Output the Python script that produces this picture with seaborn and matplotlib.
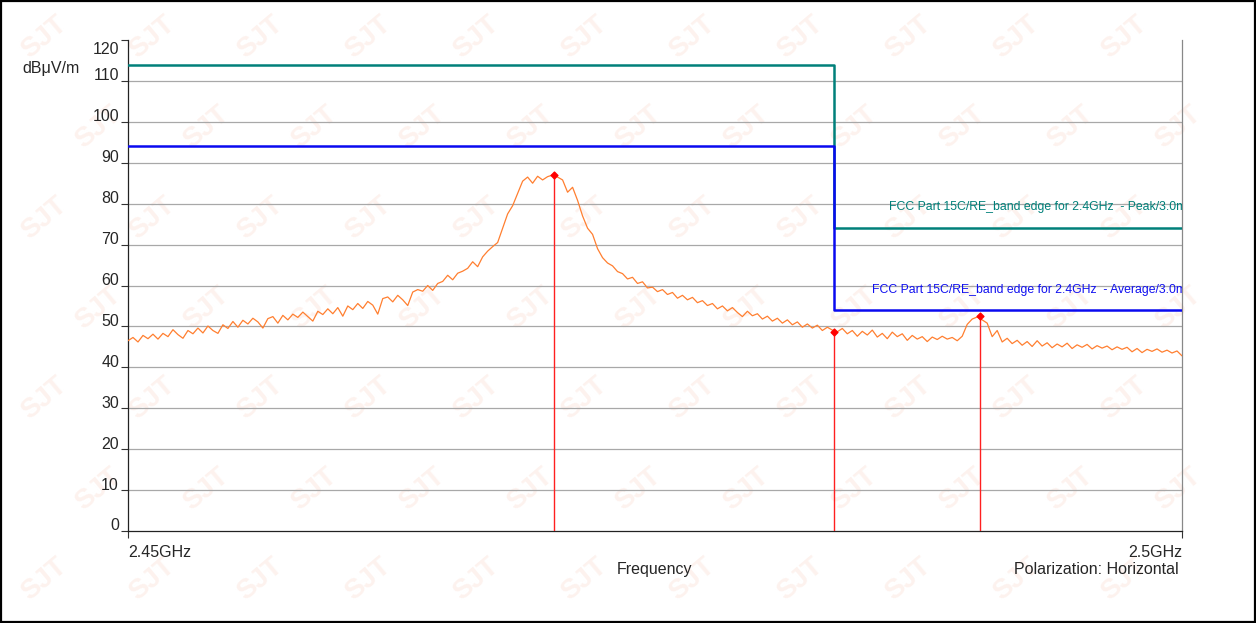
import numpy as np
import pandas as pd
import seaborn as sns
import matplotlib.pyplot as plt

# Measured trace (dBuV/m), evenly spaced sweep 2.45 - 2.5 GHz
level = [
    46.5, 47.3, 46.2, 47.8, 47.0, 48.1, 46.9, 48.3, 47.5, 49.2, 48.0, 47.1, 49.0, 48.2, 49.6, 48.4,
    50.1, 49.0, 48.3, 50.4, 49.5, 51.2, 49.8, 51.5, 50.6, 52.0, 51.1, 49.6, 51.9, 52.4, 50.8, 52.7,
    51.6, 53.0, 52.2, 53.5, 52.4, 51.3, 53.7, 52.9, 54.3, 53.1, 54.6, 52.5, 55.0, 54.1, 55.6, 54.4,
    56.1, 55.2, 53.0, 56.8, 57.2, 56.0, 57.6, 56.5, 55.1, 58.4, 59.0, 58.6, 60.0, 58.8, 60.5,
    61.0, 62.5, 61.4, 63.0, 63.5, 64.2, 65.8, 64.6, 67.0, 68.4, 69.5, 70.5, 74.0, 77.5, 79.5, 82.5,
    85.5, 86.5, 85.0, 86.7, 85.8, 86.6, 87.0,
    86.5, 85.8, 82.8, 84.0, 80.8, 77.0, 74.0, 72.5, 69.0, 66.8, 65.5, 64.8, 63.4, 62.9, 61.6, 62.0,
    60.5, 60.9, 59.4, 59.6, 58.5, 59.0, 57.8, 58.3, 56.9, 57.6, 56.5, 57.1, 55.8,
    56.3, 55.1, 55.6, 54.3, 55.0, 53.8, 54.6, 53.4, 52.4, 53.7, 52.6, 53.1, 51.8, 52.5, 51.3, 52.0,
    50.8, 51.6, 50.4, 51.1, 49.8, 50.6, 49.6, 50.3, 49.0, 49.8, 49.1, 48.7,
    49.5, 48.2, 49.0, 47.6, 48.8, 47.9, 49.1, 47.4, 48.3, 47.0, 48.6, 47.5, 48.2, 46.6, 47.8, 46.9,
    47.5, 46.3, 47.4, 46.8, 47.6, 46.9, 47.3, 46.5, 47.6, 50.5, 51.8, 52.3, 51.6, 50.8, 47.5, 49.0,
    46.2, 47.1, 45.8, 46.6, 45.4, 46.3, 45.1, 46.5, 45.2, 46.0, 44.8, 45.7, 45.0, 45.9, 44.6, 45.5,
    44.9, 45.6, 44.5, 45.3, 44.7, 45.2, 44.3, 45.0, 44.4, 44.9, 43.8, 44.6, 43.6, 44.4, 43.9, 44.5,
    43.7, 44.2, 43.5, 44.0, 42.8,
]
freq = np.linspace(2.45, 2.5, len(level))

# Limit lines (step at band edge 2.4835 GHz)
limit_freq = [2.45, 2.4835, 2.4835, 2.5]
peak_limit = [114, 114, 74, 74]
avg_limit = [94, 94, 54, 54]

# Markers
marker_freq = [2.4702, 2.4835, 2.4904]
marker_level = [86.9, 48.7, 52.5]

y_ticks = list(range(0, 121, 10))

sns.set_style("white")
plt.rcParams['font.family'] = ['Liberation Sans', 'DejaVu Sans']

fig = plt.figure(figsize=(12.56, 6.23), dpi=100)
ax = fig.add_axes([128 / 1256, 1 - 531 / 623, 1054 / 1256, 491 / 623])

# faint background watermark, drawn behind the axes
for j, yw in enumerate(np.arange(0.07, 0.96, 0.145)):
    for xw in np.arange(0.035 + (0.043 if j % 2 else 0), 0.97, 0.086):
        fig.text(xw, yw, "SJT", color="#fdf2ee", fontsize=20, fontweight="bold",
                 rotation=40, ha="center", va="center", zorder=-5)

ax.set_facecolor("none")
for yv in y_ticks[1:-1]:
    ax.axhline(yv, color="#a8a8a8", lw=0.9, zorder=1)

df = pd.DataFrame({"Frequency": freq, "Level": level})
sns.lineplot(data=df, x="Frequency", y="Level", color="#ff7f30", lw=0.9, ax=ax, zorder=3)

ax.plot(limit_freq, peak_limit, color="#00807a", lw=1.8, zorder=4)
ax.plot(limit_freq, avg_limit, color="#0a0af0", lw=1.8, zorder=4)

ax.vlines(marker_freq, 0, marker_level, color="#ff2020", lw=1.0, zorder=5)
ax.scatter(marker_freq, marker_level, marker="D", s=12, color="#ff0000", zorder=6)

ax.text(2.50035, 79.2, "FCC Part 15C/RE_band edge for 2.4GHz  - Peak/3.0m/", color="#00807a",
        fontsize=8.8, ha="right", va="center", clip_on=True)
ax.text(2.50035, 58.9, "FCC Part 15C/RE_band edge for 2.4GHz  - Average/3.0m/", color="#1010f0",
        fontsize=8.8, ha="right", va="center", clip_on=True)

ax.set_xlim(2.45, 2.5)
ax.set_ylim(0, 120)
ax.set_yticks(y_ticks)
ax.set_yticklabels([])
ax.set_xticks([2.45, 2.5])
ax.set_xticklabels([])
ax.tick_params(axis="both", direction="out", length=5, width=0.8, color="#333333",
               left=True, bottom=True)
ax.set_xlabel("")
ax.set_ylabel("")

# y tick labels sit a little above their ticks; the top one is pulled inside
for v in y_ticks:
    dy = -9 if v == 120 else 5
    ax.annotate(str(v), xy=(0, v), xycoords=("axes fraction", "data"), xytext=(-9, dy),
                textcoords="offset pixels", fontsize=11.5, ha="right", va="center")

ax.text(2.45, -3.5, "2.45GHz", fontsize=11.5, ha="left", va="top")
ax.text(2.5, -3.5, "2.5GHz", fontsize=11.5, ha="right", va="top")
ax.text(0.5, -0.063, "Frequency", transform=ax.transAxes, fontsize=11.5, ha="center", va="top")
ax.text(0.9965, -0.063, "Polarization: Horizontal", transform=ax.transAxes, fontsize=11.5,
        ha="right", va="top")
fig.text(22 / 1256, 1 - 68 / 623, "dBμV/m", fontsize=11.5, ha="left", va="center")

sns.despine(ax=ax, top=True, right=False)
ax.spines["left"].set_color("#222222")
ax.spines["bottom"].set_color("#222222")
ax.spines["right"].set_color("#888888")
for s in ["left", "bottom", "right"]:
    ax.spines[s].set_linewidth(0.9)

fig.patches.append(plt.Rectangle((0.001, 0.001), 0.998, 0.997, transform=fig.transFigure,
                                 fill=False, edgecolor="black", lw=1.6))

fig.savefig("out.png", dpi=100)
plt.close()
